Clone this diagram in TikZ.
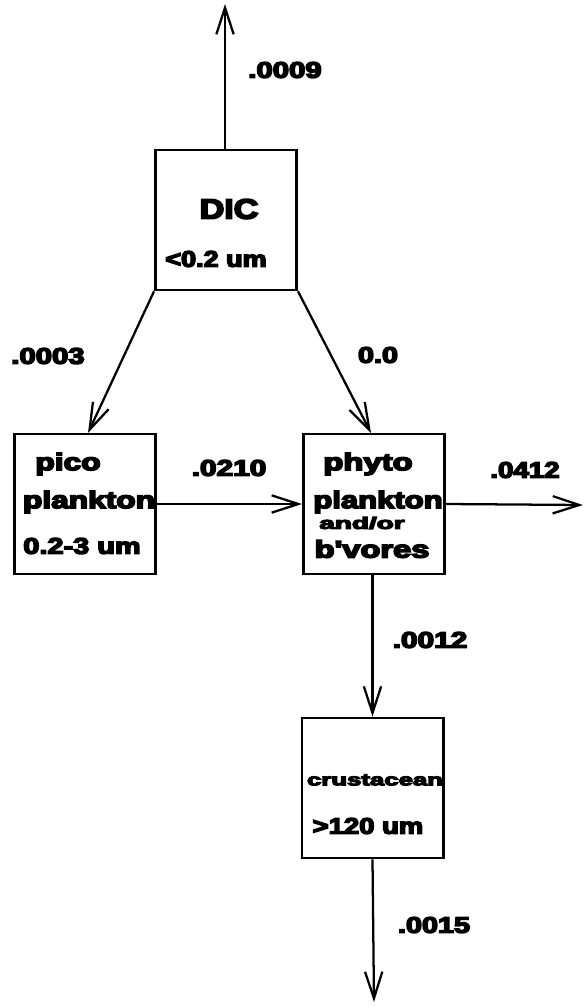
\documentclass[tikz,border=0pt]{standalone}
\usepackage{fontspec}
\setmainfont{Liberation Sans}
\newfontfamily\heavy{Liberation Sans Bold}[FakeBold=6]
\usetikzlibrary{arrows.meta}
\newcommand\wt[2]{\resizebox{#1}{\height}{#2}}
\begin{document}
\begin{tikzpicture}[x=0.75pt,y=-0.75pt,
  box/.style={draw,line width=2pt,minimum width=106pt,minimum height=105pt,inner sep=0pt},
  flow/.style={line width=1.7pt,-{Straight Barb[length=20pt,width=13pt,line width=1.7pt]}},
  lbl/.style={inner sep=0pt,font=\heavy\fontsize{17}{17}\selectfont},
  txt/.style={inner sep=0pt,font=\heavy\fontsize{18}{18}\selectfont},
  sml/.style={inner sep=0pt,font=\heavy\fontsize{12.5}{12.5}\selectfont}]
\useasboundingbox (0,0) rectangle (584,1007);
% boxes
\node[box] (dic) at (226,220) {};
\node[box] (pico) at (85,504) {};
\node[box] (phyto) at (374,504) {};
\node[box] (crust) at (372.5,788) {};
% free ends
\coordinate (top) at (225,4);
\coordinate (right) at (583,505);
\coordinate (bottom) at (374,1002);
\coordinate (picoin) at (88,433);
\coordinate (phytoin) at (371,433);
% connectors
\draw[flow] (dic.north -| top) -- (top);
\draw[flow] (dic.south west) -- (picoin);
\draw[flow] (dic.south east) -- (phytoin);
\draw[flow] (pico.east) -- (phyto.west);
\draw[flow] (phyto.east) -- (right);
\draw[flow] (phyto.south -| crust.north) -- (crust.north);
\draw[flow] (crust.south) -- (bottom);
% flow labels
\node[lbl] (l1) at (285,70) {\wt{55pt}{.0009}};
\node[lbl] (l2) at (48,356) {\wt{55pt}{.0003}};
\node[lbl] (l3) at (378,355) {\wt{30pt}{0.0}};
\node[lbl] (l4) at (229,468) {\wt{56pt}{.0210}};
\node[lbl] (l5) at (525,470) {\wt{52pt}{.0412}};
\node[lbl] (l6) at (430,640) {\wt{56pt}{.0012}};
\node[lbl] (l7) at (434,925) {\wt{54pt}{.0015}};
% box texts
\node[inner sep=0pt,font=\heavy\fontsize{21}{21}\selectfont] (t1) at (229,209) {\wt{44pt}{DIC}};
\node[lbl] (t2) at (216,259) {\wt{76pt}{<0.2 um}};
\node[txt] (t3) at (68,464) {\wt{49pt}{pico}};
\node[txt] (t4) at (89,502) {\wt{99pt}{plankton}};
\node[lbl] (t5) at (82,546) {\wt{88pt}{0.2-3 um}};
\node[txt] (t6) at (368,464) {\wt{67pt}{phyto}};
\node[txt] (t7) at (378,502) {\wt{97pt}{plankton}};
\node[sml] (t8) at (362,523) {\wt{64pt}{and/or}};
\node[txt] (t9) at (372,549) {\wt{86pt}{b'vores}};
\node[sml] (t10) at (375,780) {\wt{102pt}{crustacean}};
\node[lbl] (t11) at (368,826) {\wt{83pt}{>120 um}};
\end{tikzpicture}
\end{document}
